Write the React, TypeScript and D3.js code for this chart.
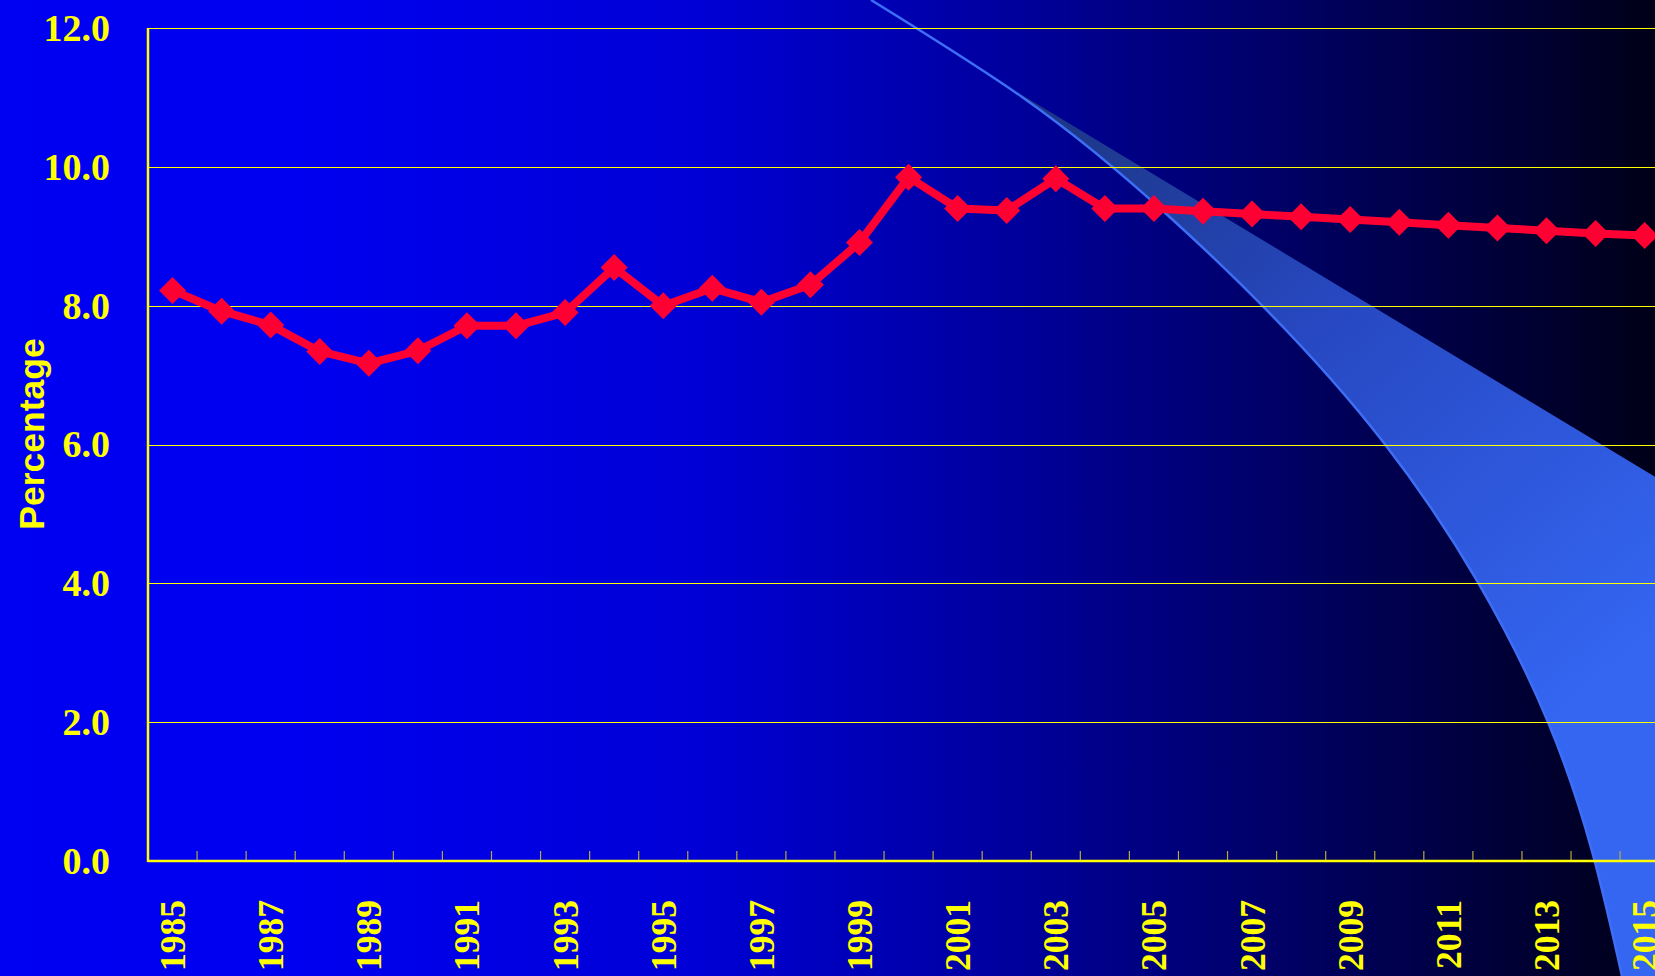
import React from "react";
import * as d3 from "d3";

const years: string[] = [
  "1985","1986","1987","1988","1989","1990","1991","1992","1993","1994",
  "1995","1996","1997","1998","1999","2000","2001","2002","2003","2004",
  "2005","2006","2007","2008","2009","2010","2011","2012","2013","2014","2015",
];
const percentage: number[] = [
  8.22, 7.92, 7.72, 7.34, 7.17, 7.35, 7.71, 7.71, 7.90, 8.55,
  8.00, 8.25, 8.05, 8.30, 8.91, 9.85, 9.40, 9.37, 9.83, 9.40,
  9.40, 9.36, 9.32, 9.28, 9.24, 9.20, 9.16, 9.12, 9.08, 9.04, 9.01,
];
const yTicks: number[] = [0, 2, 4, 6, 8, 10, 12];
const xLabelYears: string[] = years.filter((_, i) => i % 2 === 0);

// decorative background swoosh (slide artwork)
const swooshCurve: [number, number][] = [
  [871, 0], [1022, 97], [1173, 220], [1384, 443], [1548, 722], [1622, 976],
];

const W = 1655;
const H = 976;

export default function App() {
  const plotLeft = 148;
  const step = 49.07;
  const x = d3.scaleBand<string>().domain(years).range([plotLeft, plotLeft + step * years.length]).paddingInner(0).paddingOuter(0);
  const y = d3.scaleLinear().domain([0, 12]).range([861, 28]);
  const cx = (yr: string) => (x(yr) as number) + x.bandwidth() / 2;

  const linePath = d3.line<number>()
    .x((_, i) => cx(years[i]))
    .y((d) => y(d))(percentage) as string;

  const curveGen = d3.line<[number, number]>().curve(d3.curveNatural);
  const curvePath = curveGen(swooshCurve) as string;
  const bandPts = swooshCurve.slice(1);
  const bandPath = (curveGen(bandPts) as string) + `L${W},${H}L${W},476.7L1022,95Z`;

  const boundaries = d3.range(1, years.length + 1).map((k) => plotLeft + k * step);
  const yellow = "#ffff00";
  const red = "#ff0033";
  const md = 13.5;
  const diamond = `M0,${-md}L${md},0L0,${md}L${-md},0Z`;

  return (
    <svg width={W} height={H} style={{ position: "fixed", left: 0, top: 0, display: "block" }}>
      <defs>
        <linearGradient id="bg" x1="0" y1="0" x2="1" y2="0">
          <stop offset="0" stopColor="#0000f2" />
          <stop offset="0.18" stopColor="#0000f0" />
          <stop offset="0.42" stopColor="#0000d6" />
          <stop offset="0.6" stopColor="#0000a0" />
          <stop offset="0.755" stopColor="#00006c" />
          <stop offset="1" stopColor="#000018" />
        </linearGradient>
        <linearGradient id="band" gradientUnits="userSpaceOnUse" x1="1024" y1="95" x2="1560" y2="720">
          <stop offset="0" stopColor="#1b3580" />
          <stop offset="0.45" stopColor="#2748c2" />
          <stop offset="1" stopColor="#3466f2" />
        </linearGradient>
      </defs>
      <rect x={0} y={0} width={W} height={H} fill="url(#bg)" />
      <path d={bandPath} fill="url(#band)" />
      <path d={curvePath} fill="none" stroke="#3d6ef5" strokeWidth={2.5} />

      {yTicks.map((t) => (
        <g key={t}>
          <line x1={plotLeft} x2={W} y1={Math.round(y(t)) + 0.5} y2={Math.round(y(t)) + 0.5} stroke={yellow} strokeWidth={1} />
          <text x={110} y={y(t)} dy="0.34em" textAnchor="end" fill={yellow}
            fontFamily="'Liberation Serif', 'Times New Roman', serif" fontWeight="bold" fontSize={38}>
            {t.toFixed(1)}
          </text>
        </g>
      ))}
      {boundaries.map((bx, i) => (
        <line key={i} x1={bx} x2={bx} y1={y(0)} y2={y(0) - 10} stroke="#b8a840" strokeWidth={1.2} />
      ))}
      <line x1={plotLeft} x2={plotLeft} y1={y(12)} y2={y(0) + 1} stroke={yellow} strokeWidth={2.5} />
      <line x1={plotLeft} x2={W} y1={y(0)} y2={y(0)} stroke={yellow} strokeWidth={2.5} />

      {xLabelYears.map((yr) => (
        <text key={yr} transform={`translate(${cx(yr)},900) rotate(-90)`} dy="0.35em" textAnchor="end" fill={yellow}
          fontFamily="'Liberation Serif', 'Times New Roman', serif" fontWeight="bold" fontSize={35.5}>
          {yr}
        </text>
      ))}

      <text transform="translate(44,434) rotate(-90)" textAnchor="middle" fill={yellow}
        fontFamily="'Liberation Sans', Arial, sans-serif" fontWeight="bold" fontSize={35.5}>
        Percentage
      </text>

      <path d={linePath} fill="none" stroke={red} strokeWidth={8} strokeLinejoin="round" />
      {percentage.map((v, i) => (
        <path key={i} d={diamond} transform={`translate(${cx(years[i])},${y(v)})`} fill={red} />
      ))}
    </svg>
  );
}
